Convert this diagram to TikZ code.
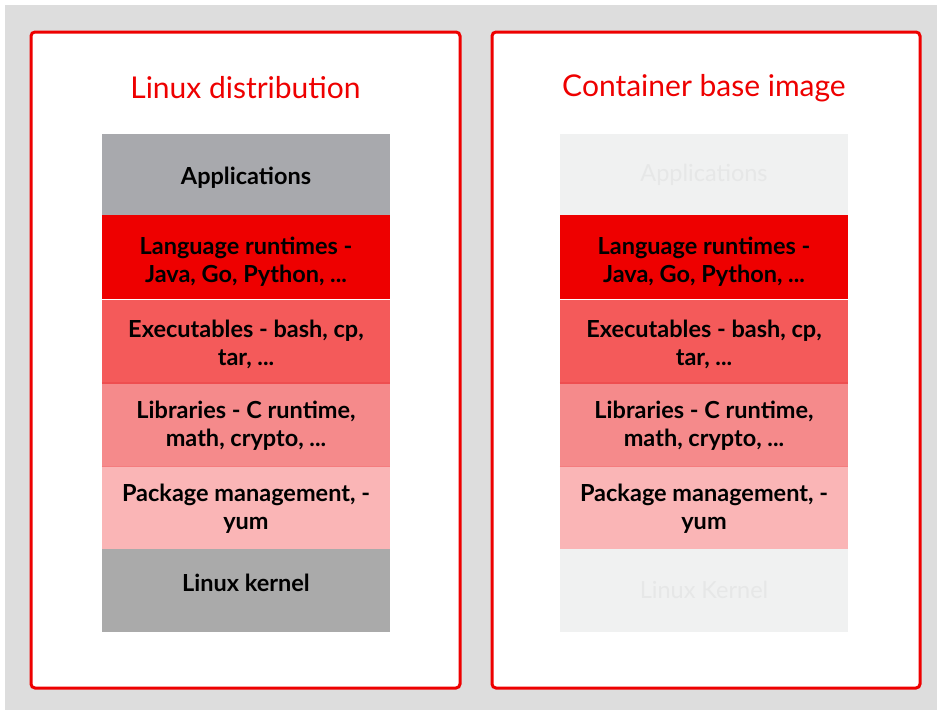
\documentclass[tikz,border=0pt]{standalone}
\usepackage{fontspec}
\setmainfont{Lato}
\definecolor{bgray}{HTML}{DDDDDD}
\definecolor{rhred}{HTML}{EE0000}
\definecolor{capp}{HTML}{A8A9AD}
\definecolor{cexe}{HTML}{F45A5A}
\definecolor{clib}{HTML}{F58A8B}
\definecolor{cpkg}{HTML}{FAB5B6}
\definecolor{ckern}{HTML}{AAAAAA}
\definecolor{cfade}{HTML}{F0F1F1}
\definecolor{tfade}{HTML}{E6E7E7}
\definecolor{sexe}{HTML}{EE4E50}
\definecolor{slib}{HTML}{F47C7E}
\begin{document}
\begin{tikzpicture}[x=1pt,y=-1pt,
  frame/.style={draw=rhred,line width=3pt,rounded corners=4pt,fill=white},
  title/.style={text=rhred,font=\fontsize{30}{34}\selectfont},
  layer/.style={minimum width=288pt,inner sep=0pt},
  lbl/.style={inner sep=0pt,align=center,font=\bfseries\fontsize{23.5}{28}\selectfont,text=black},
  flbl/.style={inner sep=0pt,align=center,font=\fontsize{23.5}{28}\selectfont,text=tfade},
  sepline/.style={line width=1.5pt}]
\useasboundingbox (0,0) rectangle (937,710);
\fill[bgray] (5,5) rectangle (937,710);
\draw[frame] (31,32) rectangle (460,688);
\draw[frame] (492,32) rectangle (920,688);
\node[title] (t1) at (245.5,88) {Linux distribution};
\node[title] (t2) at (704,88) {Container base image};
% left stack
\node[layer,fill=capp,minimum height=81pt] (a1) at (246,174.5) {};
\node[layer,fill=rhred,minimum height=84pt,anchor=north] (a2) at (a1.south) {};
\node[layer,fill=cexe,minimum height=83pt,anchor=north] (a3) at (a2.south) {};
\node[layer,fill=clib,minimum height=83pt,anchor=north] (a4) at (a3.south) {};
\node[layer,fill=cpkg,minimum height=82pt,anchor=north] (a5) at (a4.south) {};
\node[layer,fill=ckern,minimum height=83pt,anchor=north] (a6) at (a5.south) {};
\draw[sepline,sexe] (a3.south west) -- (a3.south east);
\draw[sepline,slib] (a4.south west) -- (a4.south east);
\node[lbl] (la1) at ([yshift=-3pt]a1.center) {Applications};
\node[lbl] (la2) at ([yshift=-4pt]a2.center) {Language runtimes -\\Java, Go, Python, ...};
\node[lbl] (la3) at ([yshift=-3pt]a3.center) {Executables - bash, cp,\\tar, ...};
\node[lbl] (la4) at ([yshift=-1pt]a4.center) {Libraries - C runtime,\\math, crypto, ...};
\node[lbl] (la5) at ([yshift=-1pt]a5.center) {Package management, -\\yum};
\node[lbl] (la6) at ([yshift=8pt]a6.center) {Linux kernel};
% right stack
\node[layer,fill=cfade,minimum height=81pt] (b1) at (704,174.5) {};
\node[layer,fill=rhred,minimum height=84pt,anchor=north] (b2) at (b1.south) {};
\node[layer,fill=cexe,minimum height=83pt,anchor=north] (b3) at (b2.south) {};
\node[layer,fill=clib,minimum height=83pt,anchor=north] (b4) at (b3.south) {};
\node[layer,fill=cpkg,minimum height=82pt,anchor=north] (b5) at (b4.south) {};
\node[layer,fill=cfade,minimum height=83pt,anchor=north] (b6) at (b5.south) {};
\draw[sepline,sexe] (b3.south west) -- (b3.south east);
\draw[sepline,slib] (b4.south west) -- (b4.south east);
\node[flbl] (lb1) at ([yshift=0pt]b1.center) {Applications};
\node[lbl] (lb2) at ([yshift=-4pt]b2.center) {Language runtimes -\\Java, Go, Python, ...};
\node[lbl] (lb3) at ([yshift=-3pt]b3.center) {Executables - bash, cp,\\tar, ...};
\node[lbl] (lb4) at ([yshift=-1pt]b4.center) {Libraries - C runtime,\\math, crypto, ...};
\node[lbl] (lb5) at ([yshift=-1pt]b5.center) {Package management, -\\yum};
\node[flbl] (lb6) at ([yshift=1pt]b6.center) {Linux Kernel};
\end{tikzpicture}
\end{document}
